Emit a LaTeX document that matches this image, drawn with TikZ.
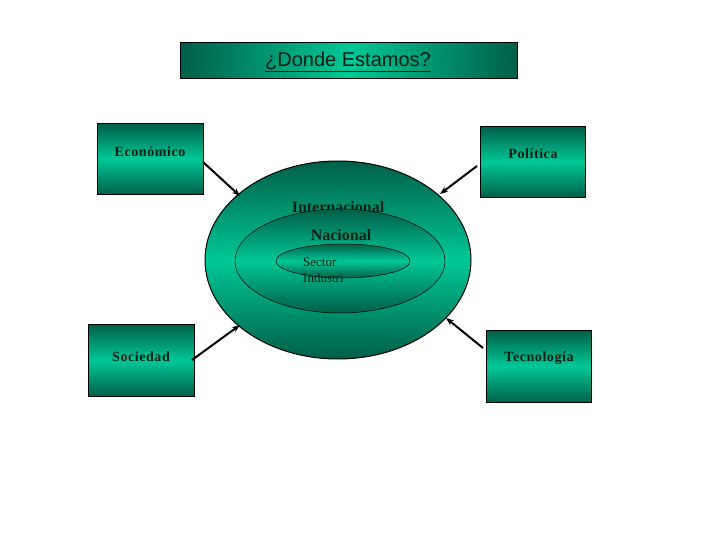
\documentclass[tikz,border=0pt]{standalone}
\usepackage{fontspec}
\setmainfont{Liberation Serif}
\newfontfamily\titlefont{Liberation Sans}
\usetikzlibrary{arrows.meta}
\definecolor{tdark}{RGB}{0,95,72}
\definecolor{tbright}{RGB}{0,200,150}
\definecolor{ttext}{RGB}{10,30,20}
\tikzset{
  box/.style={draw=black, line width=0.8pt, inner sep=0pt, anchor=north west,
    top color=tdark, bottom color=tdark, middle color=tbright},
  lbl/.style={font=\fontsize{14}{16}\selectfont\bfseries, text=ttext},
  conn/.style={-{Stealth[length=8pt,width=6pt]}, line width=2pt, black},
}
\begin{document}
\begin{tikzpicture}[x=1pt,y=-1pt]
\useasboundingbox (0,0) rectangle (720,540);
% title
\node[draw=black, line width=0.8pt, minimum width=337pt, minimum height=36pt, anchor=north west,
  left color=tdark, right color=tdark, middle color=tbright] (title) at (180,42) {};
\node[font=\titlefont\fontsize{20}{22}\selectfont, text=ttext] (titlet) at (348,62) {\underline{¿Donde Estamos?}};
% boxes
\node[box, minimum width=106pt, minimum height=71pt] (eco) at (97,123) {};
\node[lbl] (ecot) at (150,152) {\addfontfeatures{LetterSpace=4}Económico};
\node[box, minimum width=105pt, minimum height=71pt] (pol) at (480,126) {};
\node[lbl] (polt) at (533,154) {\addfontfeatures{LetterSpace=4}Política};
\node[box, minimum width=106pt, minimum height=72pt] (soc) at (88,324) {};
\node[lbl] (soct) at (141,357) {\addfontfeatures{LetterSpace=4}Sociedad};
\node[box, minimum width=105pt, minimum height=72pt] (tec) at (486,330) {};
\node[lbl] (tect) at (539,358) {\addfontfeatures{LetterSpace=4}Tecnología};
% ellipses
\path[draw=black, line width=1pt, top color=tdark, bottom color=tdark, middle color=tbright]
  (338,260) ellipse [x radius=133, y radius=99];
\node[lbl, font=\fontsize{16}{18}\selectfont\bfseries] (inter) at (338,207) {Internacional};
\path[draw=black, line width=0.5pt, top color=tdark, bottom color=tdark, middle color=tbright]
  (340,261) ellipse [x radius=105, y radius=52];
\node[lbl, font=\fontsize{16}{18}\selectfont\bfseries] (nac) at (341,235) {Nacional};
\path[draw=black, line width=0.5pt, top color=tdark, bottom color=tdark, middle color=tbright]
  (343,261) ellipse [x radius=67, y radius=17];
\node[lbl, font=\fontsize{13}{16}\selectfont, align=left, anchor=north west, inner sep=0pt] (sec) at (303,258) {Sector\\Industri};
% connector end points
\coordinate (e1) at (203,162); \coordinate (e2) at (240,196);
\coordinate (p1) at (477,166); \coordinate (p2) at (440,194);
\coordinate (s1) at (192,360); \coordinate (s2) at (240,325);
\coordinate (t1) at (483,348); \coordinate (t2) at (446,318);
\draw[conn] (e1) -- (e2);
\draw[conn] (p1) -- (p2);
\draw[conn] (s1) -- (s2);
\draw[conn] (t1) -- (t2);
\end{tikzpicture}
\end{document}
